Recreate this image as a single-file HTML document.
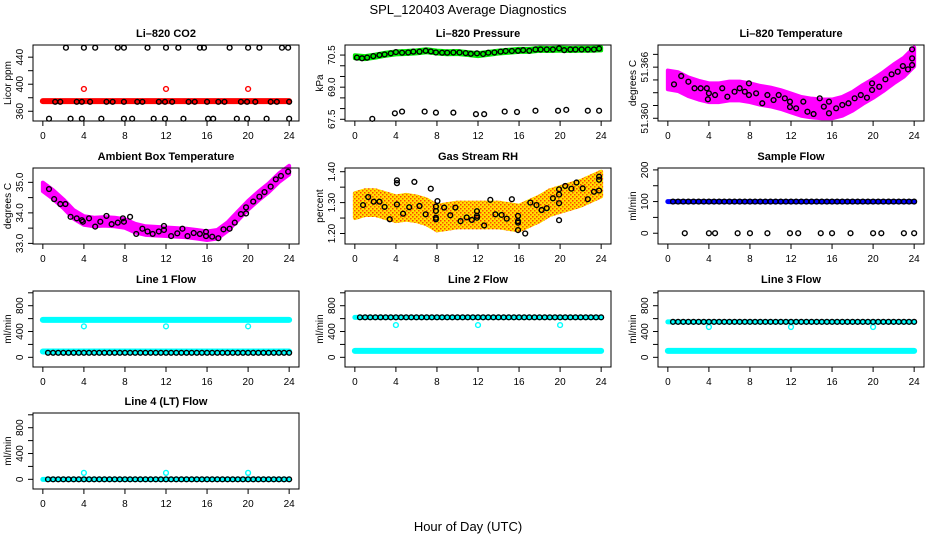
<!DOCTYPE html>
<html><head><meta charset="utf-8"><style>
html,body{margin:0;padding:0;background:#fff}
svg{display:block;font-family:"Liberation Sans",Arial,sans-serif}
</style></head><body>
<svg id="chart" xmlns="http://www.w3.org/2000/svg" width="936" height="540" viewBox="0 0 936 540">
<defs>
<pattern id="rhpat" width="4" height="4" patternUnits="userSpaceOnUse">
<rect width="4" height="4" fill="#ffe000"/><rect width="1.5" height="1.5" fill="#ff3a00"/><rect x="2" y="2" width="1.5" height="1.5" fill="#ff5000"/>
</pattern>
</defs>
<rect width="936" height="540" fill="#fff"/>
<text x="468" y="14" font-size="13" text-anchor="middle">SPL_120403  Average Diagnostics</text>
<text x="468" y="531" font-size="13" text-anchor="middle">Hour of Day (UTC)</text>
</svg>
<script>
// ---------- data ----------
const halfHours=[0.5,1,1.5,2,2.5,3,3.5,4,4.5,5,5.5,6,6.5,7,7.5,8,8.5,9,9.5,10,10.5,11,11.5,12,12.5,13,13.5,14,14.5,15,15.5,16,16.5,17,17.5,18,18.5,19,19.5,20,20.5,21,21.5,22,22.5,23,23.5,24];
const bandHours=[0,1,2,3,4,5,6,7,8,9,10,11,12,13,14,15,16,17,18,19,20,21,22,23,24];
const spanHours=[0,24];
const xTicks=[0,4,8,12,16,20,24];
const spikeHours=[4,12,20];

// CO2
const co2LineHours=[1.2,1.7,3.3,3.8,4.6,6.2,6.8,7.9,9.2,9.7,11.3,11.9,12.6,14.2,14.8,16,17.1,17.7,19.3,19.9,20.7,22.2,22.8,24];
const co2LineVals=[374,374,374,374,374,374,374,374,374,374,374,374,374,374,374,374,374,374,374,374,374,374,374,374];
const co2TopHours=[2.25,4,5.1,7.3,7.9,10.2,12,13.2,15.3,15.7,18.2,20,21.1,23.3,23.9];
const co2TopVals=[454,454,454,454,454,454,454,454,454,454,454,454,454,454,454];
const co2LowHours=[0.6,2.7,3.8,5.7,7.9,8.7,10.8,11.9,13.7,16.1,16.6,18.9,19.9,21.8,24];
const co2LowVals=[349,349,349,349,349,349,349,349,349,349,349,349,349,349,349];
const co2Band=[375,375];
const co2Spike=[393,393,393];

// Pressure
const presBand=[70.42,70.38,70.45,70.54,70.6,70.62,70.65,70.7,70.64,70.61,70.62,70.57,70.52,70.58,70.64,70.68,70.72,70.72,70.77,70.76,70.78,70.76,70.77,70.77,70.79];
const presHours=[0.2,0.7,1.2,1.8,2.4,2.9,3.5,4,4.6,5.2,5.7,6.3,6.9,7.4,7.9,8.5,9,9.6,10.2,10.8,11.3,11.9,12.5,13,13.6,14.2,14.7,15.3,15.9,16.4,17,17.6,18.1,18.7,19.3,19.9,20.4,21,21.5,22.1,22.7,23.3,23.8];
const presVals=[70.38,70.35,70.38,70.45,70.5,70.53,70.58,70.64,70.61,70.62,70.66,70.66,70.7,70.67,70.62,70.61,70.61,70.62,70.62,70.59,70.56,70.58,70.55,70.61,70.62,70.66,70.69,70.69,70.7,70.73,70.7,70.76,70.76,70.76,70.76,70.81,70.73,70.76,70.76,70.76,70.76,70.76,70.8];
const presLowHours=[1.7,3.9,4.6,6.8,7.9,9.6,11.8,12.6,14.6,15.8,17.6,19.8,20.6,22.7,23.8];
const presLowVals=[67.52,67.78,67.86,67.86,67.81,67.81,67.74,67.74,67.86,67.84,67.9,67.9,67.94,67.9,67.9];

// Li-820 temperature
const ltBand=[51.3645,51.3643,51.3637,51.3633,51.363,51.363,51.3632,51.3632,51.363,51.3627,51.3625,51.3622,51.3618,51.3614,51.3612,51.3611,51.3611,51.3614,51.362,51.3628,51.3635,51.3643,51.3652,51.366,51.3672];
const ltHours=[0.6,1.3,2,2.6,3.2,3.8,3.9,4,4.6,5.3,5.8,6.5,7,7.5,7.9,7.9,8.6,9.2,9.7,10.3,10.8,11.4,11.9,11.9,12.5,13.2,13.6,14.2,14.8,15.2,15.7,15.7,16.4,17,17.6,18.2,18.8,19.4,19.9,19.9,20.6,21.2,21.8,22.4,22.9,23.4,23.8,23.8,23.8];
const ltVals=[51.36398,51.36496,51.36429,51.36352,51.36352,51.36352,51.36223,51.36293,51.36273,51.36352,51.36253,51.36312,51.36352,51.36312,51.3641,51.36273,51.36293,51.36176,51.36273,51.36214,51.36273,51.36234,51.36195,51.36132,51.36117,51.36195,51.36077,51.3605,51.36234,51.36136,51.36059,51.36195,51.36117,51.36156,51.36176,51.36234,51.36273,51.36241,51.36332,51.3641,51.3637,51.36457,51.36516,51.36546,51.36613,51.36574,51.36703,51.36625,51.36809];

// Ambient box temperature
const abBand=[34.85,34.6,34.3,33.95,33.75,33.7,33.72,33.7,33.65,33.5,33.42,33.4,33.38,33.36,33.34,33.3,33.25,33.3,33.55,33.9,34.25,34.55,34.82,35.15,35.4];
const abHours=[0.6,1.1,1.7,2.2,2.7,3.3,3.8,3.9,4.5,5.1,5.6,6.2,6.7,7.3,7.8,7.9,8.5,9.1,9.7,10.2,10.7,11.3,11.8,11.8,12.5,13.1,13.6,14.1,14.7,15.3,15.9,15.9,16.5,17.1,17.6,18.2,18.7,19.3,19.8,19.8,20.5,21.1,21.6,22.2,22.7,23.2,23.9];
const abVals=[34.78,34.45,34.29,34.29,33.87,33.82,33.76,33.71,33.82,33.55,33.71,33.9,33.63,33.68,33.82,33.71,33.87,33.31,33.48,33.39,33.31,33.39,33.44,33.57,33.24,33.33,33.48,33.24,33.34,33.31,33.38,33.24,33.22,33.17,33.46,33.48,33.68,33.96,33.98,34.18,34.37,34.53,34.68,34.86,35.1,35.21,35.35];

// Gas stream RH
const rhBand=[1.29,1.30,1.30,1.29,1.28,1.285,1.28,1.27,1.25,1.255,1.26,1.26,1.26,1.26,1.26,1.255,1.25,1.265,1.28,1.3,1.31,1.32,1.33,1.345,1.36];
const rhHours=[0.8,1.3,1.84,2.4,2.9,3.4,4.1,4.1,4.1,4.7,5.3,5.8,6.3,6.9,7.4,7.9,7.9,7.9,7.9,8.05,8.7,9.3,9.8,10.3,10.9,11.4,11.9,11.9,11.9,12.6,13.2,13.7,14.3,14.8,15.3,15.9,15.9,15.9,15.9,16.6,17.1,17.7,18.2,18.7,19.3,19.9,19.9,19.9,19.9,20.5,21.1,21.6,22.2,22.7,23.3,23.8,23.8,23.8];
const rhVals=[1.292,1.318,1.303,1.303,1.286,1.246,1.372,1.363,1.294,1.264,1.285,1.367,1.289,1.262,1.345,1.287,1.273,1.251,1.246,1.305,1.284,1.259,1.284,1.24,1.252,1.244,1.272,1.257,1.251,1.226,1.309,1.262,1.26,1.248,1.311,1.257,1.24,1.235,1.211,1.2,1.3,1.292,1.276,1.282,1.314,1.343,1.326,1.298,1.243,1.354,1.345,1.365,1.346,1.311,1.335,1.374,1.384,1.339];

// Sample flow
const sfBand=[100,100];
const sfVals=[100,100,100,100,100,100,100,100,100,100,100,100,100,100,100,100,100,100,100,100,100,100,100,100,100,100,100,100,100,100,100,100,100,100,100,100,100,100,100,100,100,100,100,100,100,100,100,100];
const sfZeroHours=[1.65,4,4.6,6.8,8,9.7,11.9,12.7,14.9,16,17.8,20,20.8,23,24];
const sfZeroVals=[0,0,0,0,0,0,0,0,0,0,0,0,0,0,0];

// Line flows
const l1High=[580,580]; const l1Low=[90,90];
const l1Black=[70,70,70,70,70,70,70,70,70,70,70,70,70,70,70,70,70,70,70,70,70,70,70,70,70,70,70,70,70,70,70,70,70,70,70,70,70,70,70,70,70,70,70,70,70,70,70,70];
const l1Spike=[480,480,480];
const l2High=[620,620]; const l2Low=[100,100];
const l2Black=[620,620,620,620,620,620,620,620,620,620,620,620,620,620,620,620,620,620,620,620,620,620,620,620,620,620,620,620,620,620,620,620,620,620,620,620,620,620,620,620,620,620,620,620,620,620,620,620];
const l2Spike=[500,500,500];
const l3High=[550,550]; const l3Low=[100,100];
const l3Black=[550,550,550,550,550,550,550,550,550,550,550,550,550,550,550,550,550,550,550,550,550,550,550,550,550,550,550,550,550,550,550,550,550,550,550,550,550,550,550,550,550,550,550,550,550,550,550,550];
const l3Spike=[470,470,470];
const l4Low=[0,0];
const l4Black=[0,0,0,0,0,0,0,0,0,0,0,0,0,0,0,0,0,0,0,0,0,0,0,0,0,0,0,0,0,0,0,0,0,0,0,0,0,0,0,0,0,0,0,0,0,0,0,0];
const l4Spike=[100,100,100];

const flowTicks=[0,200,400,600,800,1000];
const flowLabels=["0","","400","","800",""];

// ---------- drawing ----------
const NS="http://www.w3.org/2000/svg";
const svg=document.getElementById('chart');
function el(tag,parent){const e=document.createElementNS(NS,tag);parent.appendChild(e);return e;}

function panel(c){
  const g=el('g',svg);
  
  
  const W=266,H=76;
  const sx=h=>c.x+(h+0.96)/25.92*W;
  const sy=v=>c.y+H-(v-c.lo)/(c.hi-c.lo)*H;
  const t=el('text',g);
  
  
  t.setAttribute('x',c.x+W/2);t.setAttribute('y',c.y-8);
  t.setAttribute('font-size','11');t.setAttribute('font-weight','bold');t.setAttribute('text-anchor','middle');
  t.textContent=c.title;
  xTicks.forEach(h=>{
    const l=el('line',g);
    
    
    l.setAttribute('x1',sx(h));l.setAttribute('x2',sx(h));l.setAttribute('y1',c.y+H);l.setAttribute('y2',c.y+H+5);
    l.setAttribute('stroke','#000');
    const tx=el('text',g);
    
    
    tx.setAttribute('x',sx(h));tx.setAttribute('y',c.y+H+18);tx.setAttribute('font-size','10');tx.setAttribute('text-anchor','middle');
    tx.textContent=h;
  });
  c.ticks.forEach((v,i)=>{
    const y=sy(v);
    const l=el('line',g);
    
    
    l.setAttribute('x1',c.x-5);l.setAttribute('x2',c.x);l.setAttribute('y1',y);l.setAttribute('y2',y);
    l.setAttribute('stroke','#000');
    if(c.labels[i]){
      const tx=el('text',g);
      
      
      tx.setAttribute('x',c.x-10);tx.setAttribute('y',y);tx.setAttribute('font-size','10');tx.setAttribute('text-anchor','middle');
      tx.setAttribute('transform','rotate(-90 '+(c.x-10)+' '+y+')');
      tx.textContent=c.labels[i];
    }
  });
  const yt=el('text',g);
  
  
  const yc=c.y+H/2;
  yt.setAttribute('x',c.x-22);yt.setAttribute('y',yc);yt.setAttribute('font-size','10');yt.setAttribute('text-anchor','middle');
  yt.setAttribute('transform','rotate(-90 '+(c.x-22)+' '+yc+')');
  yt.textContent=c.ylab;
  const marks=el('g',g);
  
  
  return {g,marks,sx,sy,c,W,H};
}
function finish(p){
  const r=el('rect',p.g);
  
  
  r.setAttribute('x',p.c.x);r.setAttribute('y',p.c.y);r.setAttribute('width',p.W);r.setAttribute('height',p.H);
  r.setAttribute('fill','none');r.setAttribute('stroke','#000');
}
function band(p,hours,centers,half,fill){
  const up=hours.map((h,i)=>p.sx(h)+','+p.sy(centers[i]+half));
  const dn=hours.map((h,i)=>p.sx(h)+','+p.sy(centers[i]-half)).reverse();
  const pg=el('polygon',p.marks);
  
  
  pg.setAttribute('points',up.concat(dn).join(' '));
  pg.setAttribute('fill',fill);pg.setAttribute('stroke',fill);pg.setAttribute('stroke-width','4');pg.setAttribute('stroke-linejoin','round');
}
function thick(p,hours,vals,color,w){
  const pl=el('polyline',p.marks);
  
  
  pl.setAttribute('points',hours.map((h,i)=>p.sx(h)+','+p.sy(vals[i])).join(' '));
  pl.setAttribute('fill','none');pl.setAttribute('stroke',color);pl.setAttribute('stroke-width',w);pl.setAttribute('stroke-linecap','round');
}
function pts(p,hours,vals,color){
  hours.forEach((h,i)=>{
    const ci=el('circle',p.marks);
    
    
    ci.setAttribute('cx',p.sx(h));ci.setAttribute('cy',p.sy(vals[i]));ci.setAttribute('r','2.4');
    ci.setAttribute('fill','none');ci.setAttribute('stroke',color);ci.setAttribute('stroke-width','1.4');
  });
}
const colX=[33,345,658], rowY=[45,168,291,413];

// CO2
let p=panel({name:'co2-panel',x:colX[0],y:rowY[0],lo:345.6,hi:458,title:'Li\u2013820 CO2',ylab:'Licor ppm',ticks:[360,380,400,420,440],labels:['360','','400','','440']});
thick(p,spanHours,co2Band,'#ff0000',6);
pts(p,spikeHours,co2Spike,'#ff0000');
pts(p,co2LineHours,co2LineVals,'#000');pts(p,co2TopHours,co2TopVals,'#000');pts(p,co2LowHours,co2LowVals,'#000');
finish(p);
// Pressure
p=panel({name:'pressure-panel',x:colX[1],y:rowY[0],lo:67.42,hi:70.97,title:'Li\u2013820 Pressure',ylab:'kPa',ticks:[67.5,68,68.5,69,69.5,70,70.5],labels:['67.5','','','69.0','','','70.5']});
band(p,bandHours,presBand,0.07,'#00ee00');
pts(p,presHours,presVals,'#000');pts(p,presLowHours,presLowVals,'#000');
finish(p);
// Li-820 temperature
p=panel({name:'li820-temperature-panel',x:colX[2],y:rowY[0],lo:51.35968,hi:51.3686,title:'Li\u2013820 Temperature',ylab:'degrees C',ticks:[51.36,51.3615,51.363,51.3645,51.366,51.3675],labels:['51.360','','','','51.366','']});
band(p,bandHours,ltBand,0.0011,'#ff00ff');
pts(p,ltHours,ltVals,'#000');
finish(p);
// Ambient
p=panel({name:'ambient-box-temperature-panel',x:colX[0],y:rowY[1],lo:32.98,hi:35.47,title:'Ambient Box Temperature',ylab:'degrees C',ticks:[33,33.5,34,34.5,35],labels:['33.0','','34.0','','35.0']});
band(p,bandHours,abBand,0.14,'#ff00ff');
pts(p,abHours,abVals,'#000');
finish(p);
// RH
p=panel({name:'gas-stream-rh-panel',x:colX[1],y:rowY[1],lo:1.166,hi:1.412,title:'Gas Stream RH',ylab:'percent',ticks:[1.2,1.25,1.3,1.35,1.4],labels:['1.20','','1.30','','1.40']});
band(p,bandHours,rhBand,0.04,'url(#rhpat)');
pts(p,rhHours,rhVals,'#000');
finish(p);
// Sample flow
p=panel({name:'sample-flow-panel',x:colX[2],y:rowY[1],lo:-34,hi:206,title:'Sample Flow',ylab:'ml/min',ticks:[0,50,100,150,200],labels:['0','','100','','200']});
thick(p,spanHours,sfBand,'#0000ff',5);
pts(p,halfHours,sfVals,'#000');pts(p,sfZeroHours,sfZeroVals,'#000');
finish(p);
// Line 1
p=panel({name:'line1-flow-panel',x:colX[0],y:rowY[2],lo:-150,hi:1028,title:'Line 1 Flow',ylab:'ml/min',ticks:flowTicks,labels:flowLabels});
thick(p,spanHours,l1High,'#00ffff',6);thick(p,spanHours,l1Low,'#00ffff',6);
pts(p,spikeHours,l1Spike,'#00ffff');pts(p,halfHours,l1Black,'#000');
finish(p);
// Line 2
p=panel({name:'line2-flow-panel',x:colX[1],y:rowY[2],lo:-150,hi:1028,title:'Line 2 Flow',ylab:'ml/min',ticks:flowTicks,labels:flowLabels});
thick(p,spanHours,l2Low,'#00ffff',6);thick(p,spanHours,l2High,'#00ffff',5);
pts(p,spikeHours,l2Spike,'#00ffff');pts(p,halfHours,l2Black,'#000');
finish(p);
// Line 3
p=panel({name:'line3-flow-panel',x:colX[2],y:rowY[2],lo:-150,hi:1028,title:'Line 3 Flow',ylab:'ml/min',ticks:flowTicks,labels:flowLabels});
thick(p,spanHours,l3Low,'#00ffff',6);thick(p,spanHours,l3High,'#00ffff',5);
pts(p,spikeHours,l3Spike,'#00ffff');pts(p,halfHours,l3Black,'#000');
finish(p);
// Line 4
p=panel({name:'line4-flow-panel',x:colX[0],y:rowY[3],lo:-150,hi:1028,title:'Line 4 (LT) Flow',ylab:'ml/min',ticks:flowTicks,labels:flowLabels});
thick(p,spanHours,l4Low,'#00ffff',5);
pts(p,spikeHours,l4Spike,'#00ffff');pts(p,halfHours,l4Black,'#000');
finish(p);
</script>
</body></html>
